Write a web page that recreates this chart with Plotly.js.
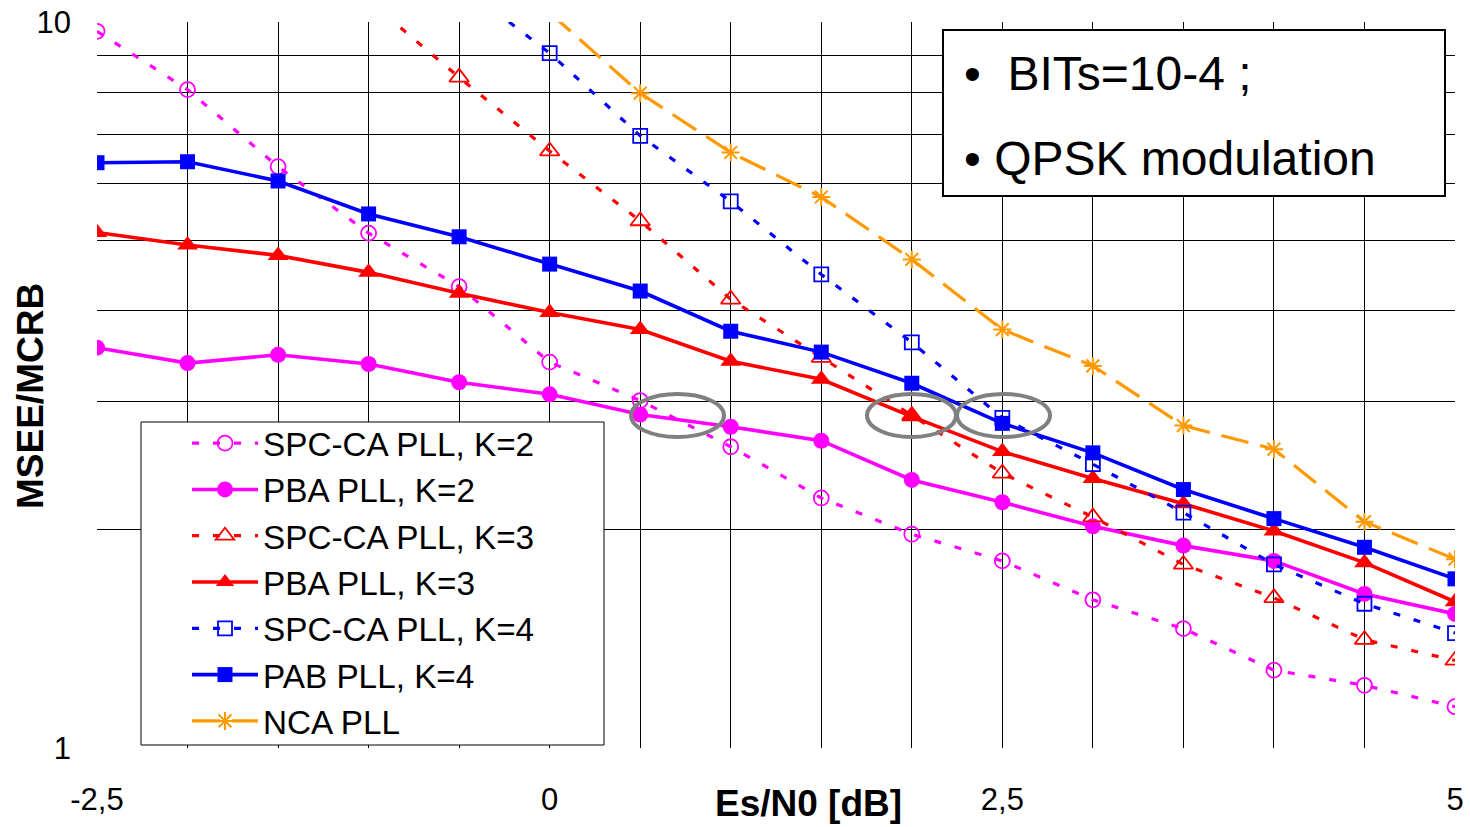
<!DOCTYPE html>
<html>
<head>
<meta charset="utf-8">
<script src="https://cdn.plot.ly/plotly-3.0.1.min.js"></script>
<style>
html,body{margin:0;padding:0;background:#fff;}
#chart{width:1470px;height:827px;}
</style>
</head>
<body>
<div id="chart"></div>
<script>
// Es/N0 [dB]
const esn0 = [-2.5,-2,-1.5,-1,-0.5,0,0.5,1,1.5,2,2.5,3,3.5,4,4.5,5];

// MSEE/MCRB per series
const spcK2 = [9.71,8.07,6.32,5.12,4.32,3.40,3.01,2.60,2.21,1.97,1.81,1.60,1.46,1.28,1.22,1.14];
const pbaK2 = [3.56,3.39,3.48,3.38,3.19,3.07,2.88,2.77,2.65,2.34,2.18,2.02,1.90,1.81,1.63,1.53];
const spcK3 = [null,null,null,10.7,8.39,6.64,5.32,4.15,3.45,2.87,2.39,2.08,1.79,1.61,1.41,1.32];
const pbaK3 = [5.13,4.93,4.77,4.52,4.23,3.98,3.77,3.41,3.22,2.86,2.56,2.35,2.17,1.99,1.80,1.59];
const spcK4 = [null,null,null,null,11.3,9.06,6.97,5.66,4.49,3.62,2.85,2.46,2.11,1.79,1.58,1.44];
const pabK4 = [6.40,6.42,6.04,5.44,5.06,4.64,4.26,3.75,3.51,3.18,2.80,2.55,2.27,2.07,1.89,1.71];
const nca   = [null,null,null,null,null,10.3,7.98,6.61,5.74,4.71,3.77,3.36,2.78,2.58,2.05,1.82];

const seriesNames = ["SPC-CA PLL, K=2","PBA PLL, K=2","SPC-CA PLL, K=3","PBA PLL, K=3","SPC-CA PLL, K=4","PAB PLL, K=4","NCA PLL"];

const xTickVals = [-2.5,-2,-1.5,-1,-0.5,0,0.5,1,1.5,2,2.5,3,3.5,4,4.5,5];
const xTickText = ["-2,5","","","","","0","","","","","2,5","","","","","5"];
const yTickVals = [1,2,3,4,5,6,7,8,9,10];
const yTickText = ["1","","","","","","","","","10"];

const MAG = "#FF00FF", RED = "#FF0000", BLUE = "#0000FF", ORANGE = "#FF9900";
const dotted = "7px,14px";

const traces = [
  {x: esn0, y: spcK2, name: seriesNames[0], mode: "lines+markers",
   line: {color: MAG, width: 3.2, dash: dotted},
   marker: {symbol: "circle-open", size: 15, color: MAG, line: {width: 1.8, color: MAG}}},
  {x: esn0, y: pbaK2, name: seriesNames[1], mode: "lines+markers",
   line: {color: MAG, width: 3.6},
   marker: {symbol: "circle", size: 16, color: MAG}},
  {x: esn0, y: spcK3, name: seriesNames[2], mode: "lines+markers",
   line: {color: RED, width: 3.2, dash: dotted},
   marker: {symbol: "triangle-up-open", size: 17, color: RED, line: {width: 1.8, color: RED}}},
  {x: esn0, y: pbaK3, name: seriesNames[3], mode: "lines+markers",
   line: {color: RED, width: 3.6},
   marker: {symbol: "triangle-up", size: 18, color: RED}},
  {x: esn0, y: spcK4, name: seriesNames[4], mode: "lines+markers",
   line: {color: BLUE, width: 3.2, dash: dotted},
   marker: {symbol: "square-open", size: 14, color: BLUE, line: {width: 1.8, color: BLUE}}},
  {x: esn0, y: pabK4, name: seriesNames[5], mode: "lines+markers",
   line: {color: BLUE, width: 3.6},
   marker: {symbol: "square", size: 15, color: BLUE}},
  {x: esn0, y: nca, name: seriesNames[6], mode: "lines+markers",
   line: {color: ORANGE, width: 3.2, dash: "28px,12px"},
   marker: {symbol: "asterisk-open", size: 15, color: ORANGE, line: {width: 2, color: ORANGE}}}
];

const FONT = "Liberation Sans";
const L = 97, R = 15, T = 22, B = 79, W = 1470, H = 827;
const pw = W - L - R, ph = H - T - B;
const px = v => (v - L) / pw;
const py = v => (H - B - v) / ph;

function ellipse(x0, x1, y0, y1) {
  return {type: "circle", xref: "paper", yref: "paper",
    x0: px(x0), x1: px(x1), y0: py(y1), y1: py(y0),
    line: {color: "#808080", width: 4}, fillcolor: "rgba(0,0,0,0)"};
}

const layout = {
  width: W, height: H,
  margin: {l: L, r: R, t: T, b: B, pad: 0},
  paper_bgcolor: "#fff", plot_bgcolor: "#fff",
  font: {family: FONT, color: "#000", size: 31},
  showlegend: true,
  xaxis: {
    range: [-2.5, 5], tickmode: "array", tickvals: xTickVals, ticktext: xTickText,
    showgrid: true, gridcolor: "#000", gridwidth: 1, zeroline: false,
    showline: false, ticks: "", tickfont: {size: 31, family: FONT},
    ticklabelstandoff: 30, fixedrange: true
  },
  yaxis: {
    type: "log", range: [0, 1], tickmode: "array", tickvals: yTickVals, ticktext: yTickText,
    showgrid: true, gridcolor: "#000", gridwidth: 1, zeroline: false,
    showline: false, ticks: "", tickfont: {size: 31, family: FONT},
    ticklabelstandoff: 25, fixedrange: true
  },
  legend: {
    x: px(141), y: py(415), xanchor: "left", yanchor: "top",
    bgcolor: "rgba(0,0,0,0)", bordercolor: "rgba(0,0,0,0)", borderwidth: 0,
    font: {size: 33.3, family: FONT, color: "#000"},
    indentation: 46, itemwidth: 66, tracegroupgap: 0
  },
  shapes: [
    {type: "rect", xref: "paper", yref: "paper",
     x0: px(943), x1: px(1445), y0: py(196), y1: py(30),
     line: {color: "#000", width: 2}, fillcolor: "#fff", layer: "above"},
    {type: "rect", xref: "paper", yref: "paper",
     x0: px(141), x1: px(604), y0: py(745), y1: py(422),
     line: {color: "#000", width: 1}, fillcolor: "#fff", layer: "above"},
    ellipse(631, 724, 394, 437),
    ellipse(867, 956, 394, 437),
    ellipse(957, 1050, 394, 437)
  ],
  annotations: [
    {xref: "paper", yref: "paper", x: px(962), y: py(73), xanchor: "left", yanchor: "middle",
     text: "•  BITs=10-4 ;", showarrow: false, font: {size: 48, family: FONT, color: "#000"}},
    {xref: "paper", yref: "paper", x: px(962), y: py(158), xanchor: "left", yanchor: "middle",
     text: "• QPSK modulation", showarrow: false, font: {size: 48, family: FONT, color: "#000"}},
    {xref: "paper", yref: "paper", x: px(808), y: py(804), xanchor: "center", yanchor: "middle",
     text: "<b>Es/N0 [dB]</b>", showarrow: false, font: {size: 37, family: FONT, color: "#000"}},
    {xref: "paper", yref: "paper", x: px(30), y: py(396), xanchor: "center", yanchor: "middle",
     text: "<b>MSEE/MCRB</b>", textangle: -90, showarrow: false, font: {size: 37, family: FONT, color: "#000"}}
  ]
};

Plotly.newPlot("chart", traces, layout, {displayModeBar: false, staticPlot: true});
</script>
</body>
</html>
